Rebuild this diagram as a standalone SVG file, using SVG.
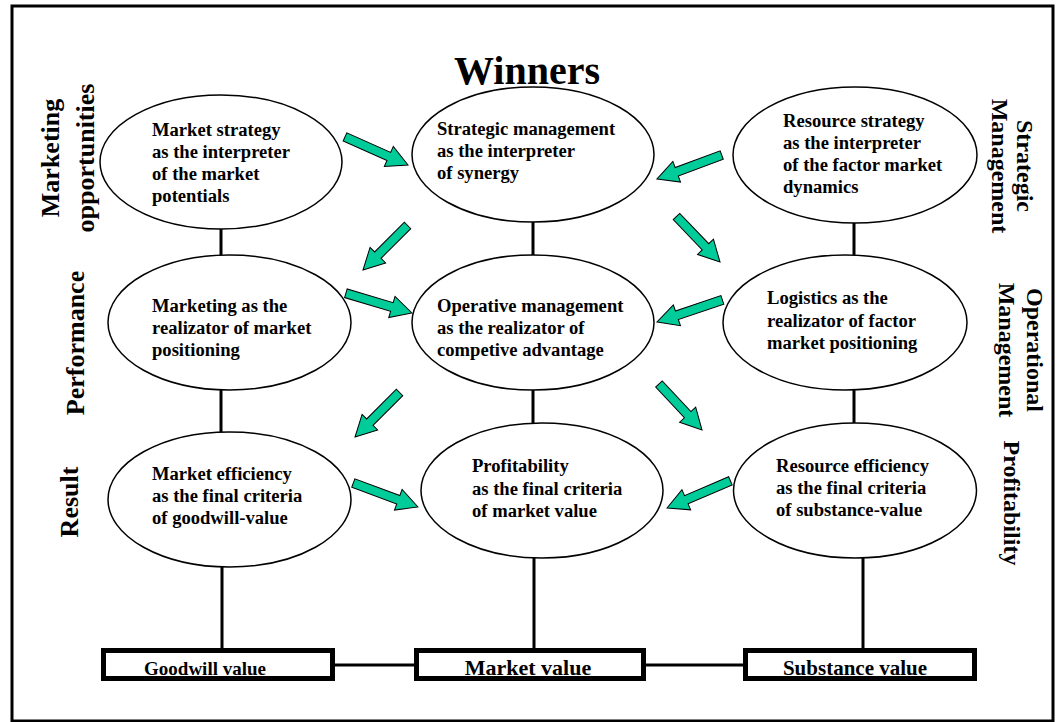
<svg xmlns="http://www.w3.org/2000/svg" xmlns:xlink="http://www.w3.org/1999/xlink" width="1057" height="722" viewBox="0 0 1057 722">
  <style>
    text { font-family: "Liberation Serif", "Times New Roman", serif; font-weight: bold; fill: #000; }
    .frame { fill: #fff; stroke: #000; stroke-width: 3; }
    .oval { fill: #fff; stroke: #000; stroke-width: 1.5; }
    .body { font-size: 18.6px; }
    .side-l { font-size: 26px; text-anchor: middle; }
    .side-r { font-size: 24px; text-anchor: middle; }
    .title { font-size: 40px; text-anchor: middle; }
    .box { fill: #fff; stroke: #000; stroke-width: 5; }
    .link { stroke: #000; stroke-width: 3; fill: none; }
    .arrow { fill: #00cc99; stroke: #000; stroke-width: 1; stroke-linejoin: miter; }
  </style>
  <defs>
    <!-- block arrows, tip at the origin, pointing along +x -->
    <path id="arrow-long" class="arrow" d="M0,0 L-21,-11 L-21,-4.5 L-69,-4.5 L-69,4.5 L-21,4.5 L-21,11 Z"/>
    <path id="arrow-short" class="arrow" d="M0,0 L-21,-11 L-21,-4.5 L-63,-4.5 L-63,4.5 L-21,4.5 L-21,11 Z"/>
  </defs>

  <rect class="frame" x="12" y="6" width="1041" height="715"/>

  <text class="title" x="527" y="84">Winners</text>

  <!-- row / column captions -->
  <g id="labels-left">
    <text class="side-l" transform="translate(59,158) rotate(-90)">Marketing</text>
    <text class="side-l" transform="translate(93.5,158) rotate(-90)">opportunities</text>
    <text class="side-l" transform="translate(84,343) rotate(-90)">Performance</text>
    <text class="side-l" transform="translate(77.5,502) rotate(-90)">Result</text>
  </g>
  <g id="labels-right">
    <text class="side-r" transform="translate(1017,166) rotate(90)">Strategic</text>
    <text class="side-r" transform="translate(992,166) rotate(90)">Management</text>
    <text class="side-r" transform="translate(1027,350) rotate(90)">Operational</text>
    <text class="side-r" transform="translate(999,350) rotate(90)">Management</text>
    <text class="side-r" transform="translate(1004,503) rotate(90)">Profitability</text>
  </g>

  <!-- connectors: vertical stems, bottom links and green arrows -->
  <g id="connectors">
    <line class="link" x1="221" y1="229" x2="221" y2="256"/>
    <line class="link" x1="221" y1="390" x2="221" y2="433"/>
    <line class="link" x1="222" y1="567" x2="222" y2="648"/>
    <line class="link" x1="533" y1="222" x2="533" y2="256"/>
    <line class="link" x1="533" y1="390" x2="533" y2="424"/>
    <line class="link" x1="534" y1="558" x2="534" y2="648"/>
    <line class="link" x1="854" y1="223" x2="854" y2="256"/>
    <line class="link" x1="854" y1="390" x2="854" y2="424"/>
    <line class="link" x1="863" y1="558" x2="863" y2="648"/>
    <line class="link" x1="335" y1="665" x2="414" y2="665"/>
    <line class="link" x1="646" y1="665" x2="743" y2="665"/>

    <use xlink:href="#arrow-long" transform="translate(408,165) rotate(24)"/>
    <use xlink:href="#arrow-long" transform="translate(657,179) rotate(159.7)"/>
    <use xlink:href="#arrow-short" transform="translate(363,270) rotate(135)"/>
    <use xlink:href="#arrow-short" transform="translate(720,262) rotate(46.3)"/>
    <use xlink:href="#arrow-long" transform="translate(412,313) rotate(16.6)"/>
    <use xlink:href="#arrow-long" transform="translate(657,322) rotate(161.3)"/>
    <use xlink:href="#arrow-short" transform="translate(355,437) rotate(135)"/>
    <use xlink:href="#arrow-short" transform="translate(702,430) rotate(46.9)"/>
    <use xlink:href="#arrow-long" transform="translate(418,507) rotate(20.3)"/>
    <use xlink:href="#arrow-long" transform="translate(667,508) rotate(156.8)"/>
  </g>

  <!-- strategic row -->
  <g id="market-strategy">
    <ellipse class="oval" cx="221" cy="162" rx="121" ry="67"/>
    <text class="body"><tspan x="152" y="136">Market strategy</tspan><tspan x="152" y="158">as the interpreter</tspan><tspan x="152" y="180">of the market</tspan><tspan x="152" y="202">potentials</tspan></text>
  </g>
  <g id="strategic-management">
    <ellipse class="oval" cx="533" cy="154.5" rx="121" ry="67.5"/>
    <text class="body"><tspan x="437" y="135">Strategic management</tspan><tspan x="437" y="157">as the interpreter</tspan><tspan x="437" y="179">of synergy</tspan></text>
  </g>
  <g id="resource-strategy">
    <ellipse class="oval" cx="855" cy="155" rx="122" ry="68"/>
    <text class="body"><tspan x="783" y="127">Resource strategy</tspan><tspan x="783" y="149">as the interpreter</tspan><tspan x="783" y="171">of the factor market</tspan><tspan x="783" y="193">dynamics</tspan></text>
  </g>

  <!-- operational row -->
  <g id="marketing">
    <ellipse class="oval" cx="229.5" cy="322.5" rx="121.5" ry="67.5"/>
    <text class="body"><tspan x="152" y="312">Marketing as the</tspan><tspan x="152" y="334">realizator of market</tspan><tspan x="152" y="356">positioning</tspan></text>
  </g>
  <g id="operative-management">
    <ellipse class="oval" cx="533" cy="322.5" rx="121" ry="67.5"/>
    <text class="body"><tspan x="437" y="312">Operative management</tspan><tspan x="437" y="334">as the realizator of</tspan><tspan x="437" y="356">competive advantage</tspan></text>
  </g>
  <g id="logistics">
    <ellipse class="oval" cx="845" cy="322.5" rx="122" ry="67.5"/>
    <text class="body"><tspan x="767" y="304">Logistics as the</tspan><tspan x="767" y="327">realizator of factor</tspan><tspan x="767" y="349">market positioning</tspan></text>
  </g>

  <!-- result row -->
  <g id="market-efficiency">
    <ellipse class="oval" cx="229.5" cy="499.5" rx="121.5" ry="67.5"/>
    <text class="body"><tspan x="152" y="480">Market efficiency</tspan><tspan x="152" y="502">as the final criteria</tspan><tspan x="152" y="524">of goodwill-value</tspan></text>
  </g>
  <g id="profitability">
    <ellipse class="oval" cx="542" cy="490.5" rx="121" ry="67.5"/>
    <text class="body"><tspan x="472" y="472">Profitability</tspan><tspan x="472" y="495">as the final criteria</tspan><tspan x="472" y="517">of market value</tspan></text>
  </g>
  <g id="resource-efficiency">
    <ellipse class="oval" cx="855" cy="490.5" rx="121.5" ry="67.5"/>
    <text class="body"><tspan x="776" y="472">Resource efficiency</tspan><tspan x="776" y="494">as the final criteria</tspan><tspan x="776" y="516">of substance-value</tspan></text>
  </g>

  <!-- value boxes -->
  <g id="goodwill-value">
    <rect class="box" x="103.5" y="650.5" width="229" height="28"/>
    <text x="205" y="675" font-size="19" text-anchor="middle">Goodwill value</text>
  </g>
  <g id="market-value">
    <rect class="box" x="416.5" y="650.5" width="227" height="28"/>
    <text x="528" y="675" font-size="22" text-anchor="middle">Market value</text>
  </g>
  <g id="substance-value">
    <rect class="box" x="745.5" y="650.5" width="229" height="28"/>
    <text x="855" y="675" font-size="21" text-anchor="middle">Substance value</text>
  </g>
</svg>
